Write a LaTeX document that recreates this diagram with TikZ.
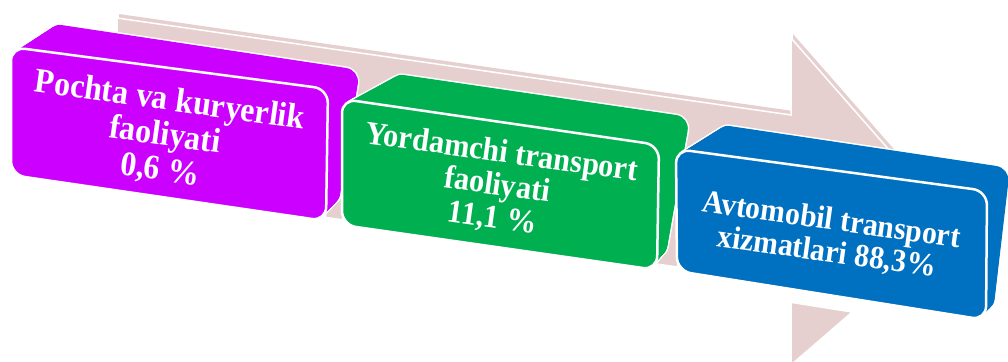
\documentclass[tikz,border=0pt]{standalone}
\usepackage{fontspec}
\setmainfont{Liberation Serif}
\usepackage{tikz}
\usetikzlibrary{calc}

\definecolor{arrowpink}{HTML}{E6CFCF}
\definecolor{boxpurple}{HTML}{CC00FF}
\definecolor{boxgreen}{HTML}{00B050}
\definecolor{boxblue}{HTML}{0070C0}

\tikzset{
  boxtext/.style={text=white, align=center, inner sep=0pt, rotate=-8, yscale=1.08},
  slabhalo/.style={white, line width=3pt, rounded corners=14pt},
  slabfront/.style={draw=white, line width=2.5pt, rounded corners=14pt},
}

% one extruded box: back face #1b1..4 swept to front face #1f1..4
\newcommand{\drawslab}[2]{%
  \foreach \t in {0,0.05,...,1}
    \draw[slabhalo] ($(#1b1)!\t!(#1f1)$) -- ($(#1b2)!\t!(#1f2)$) -- ($(#1b3)!\t!(#1f3)$) -- ($(#1b4)!\t!(#1f4)$) -- cycle;
  \foreach \t in {0,0.05,...,1}
    \fill[#2, rounded corners=14pt] ($(#1b1)!\t!(#1f1)$) -- ($(#1b2)!\t!(#1f2)$) -- ($(#1b3)!\t!(#1f3)$) -- ($(#1b4)!\t!(#1f4)$) -- cycle;
  \filldraw[fill=#2, slabfront] (#1f1) -- (#1f2) -- (#1f3) -- (#1f4) -- cycle;
}

\begin{document}
\begin{tikzpicture}[x=1pt, y=-1pt]
    \useasboundingbox (0,0) rectangle (1008,361);
    % big arrow behind the boxes
    \begin{scope}[shift={(2,-4)}]
    \fill[arrowpink] (117,18) -- (791,115) -- (791,38) -- (954,224) -- (791,365) -- (791,283) -- (117,188) -- cycle;
    \end{scope}
    \filldraw[fill=arrowpink, draw=white, line width=1.5pt] (117,18) -- (791,115) -- (791,38) -- (954,224) -- (791,365) -- (791,283) -- (117,188) -- cycle;

    % corners of the boxes
    \coordinate (purb1) at (48,23);   \coordinate (purb2) at (360,70);
    \coordinate (purb3) at (338,208); \coordinate (purb4) at (40,168);
    \coordinate (purf1) at (11,47);   \coordinate (purf2) at (328,89);
    \coordinate (purf3) at (326,221); \coordinate (purf4) at (11,175);

    \coordinate (grnb1) at (390,73);  \coordinate (grnb2) at (690,117);
    \coordinate (grnb3) at (665,260); \coordinate (grnb4) at (380,200);
    \coordinate (grnf1) at (342,99);  \coordinate (grnf2) at (659,145);
    \coordinate (grnf3) at (657,270); \coordinate (grnf4) at (342,225);

    \coordinate (blub1) at (716,124); \coordinate (blub2) at (1010,168);
    \coordinate (blub3) at (993,313); \coordinate (blub4) at (710,250);
    \coordinate (bluf1) at (676,149); \coordinate (bluf2) at (987,191);
    \coordinate (bluf3) at (986,320); \coordinate (bluf4) at (677,271);

    % white shade under the boxes
    \foreach \b in {pur,grn,blu}
    \fill[white, rounded corners=14pt] ($(\b f1)+(0,14)$) -- ($(\b f2)+(0,14)$) -- ($(\b f3)+(0,14)$) -- ($(\b f4)+(0,14)$) -- cycle;

    \drawslab{pur}{boxpurple}
    \drawslab{grn}{boxgreen}
    \drawslab{blu}{boxblue}

    % labels
    \node[boxtext, font=\fontsize{32}{32.5}\selectfont\bfseries] (purtxt) at (165,136) {Pochta va kuryerlik\\faoliyati\\0,6 \%};
    \node[boxtext, font=\fontsize{30.4}{30.5}\selectfont\bfseries] (grntxt) at (497,186) {Yordamchi transport\\faoliyati\\11,1 \%};
    \node[boxtext, font=\fontsize{29.8}{30}\selectfont\bfseries] (blutxt) at (829,237) {Avtomobil transport\\xizmatlari 88,3\%};
\end{tikzpicture}
\end{document}
